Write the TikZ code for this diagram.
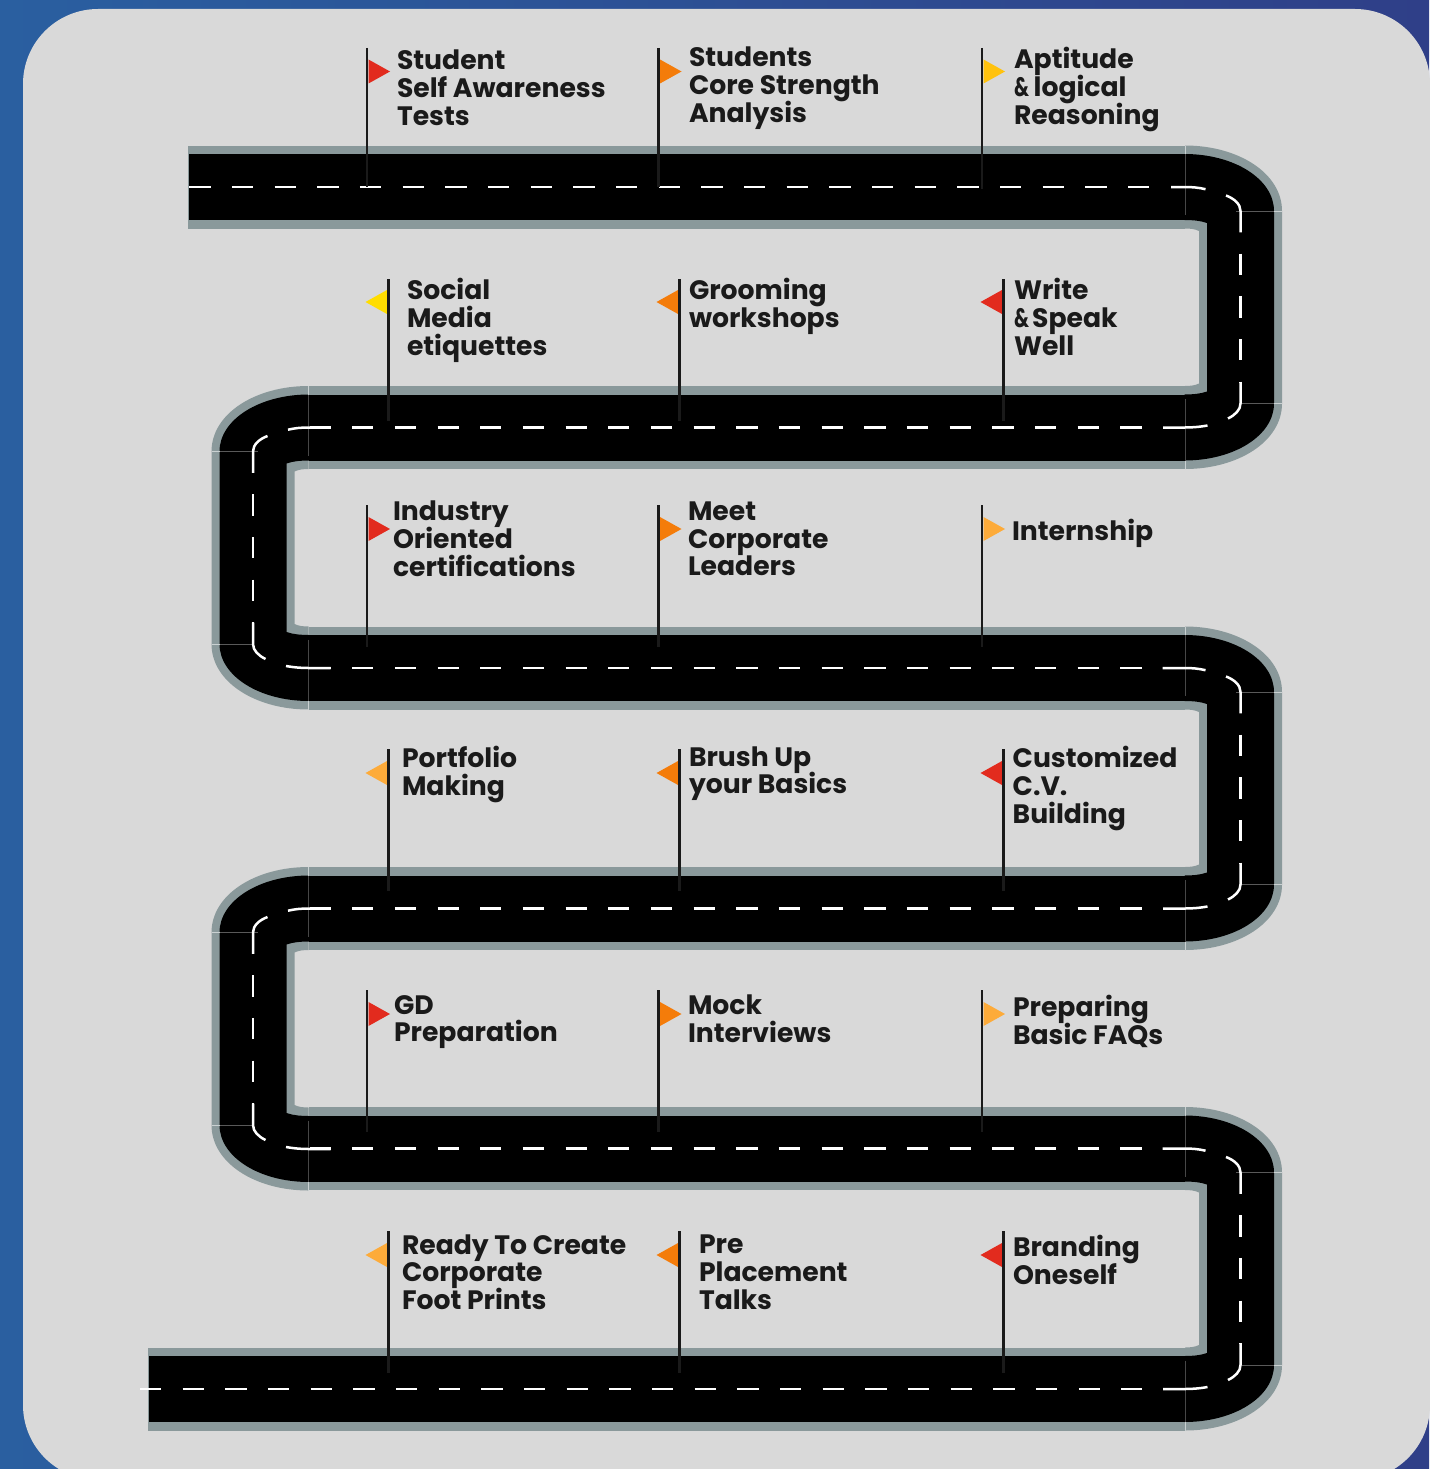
\documentclass[tikz,border=0pt]{standalone}
\usepackage{fontspec}
\setmainfont{Poppins}[BoldFont={Poppins Bold},Ligatures=TeX]
\normallineskiplimit=-60pt
\lineskiplimit=-60pt
\definecolor{rim}{HTML}{8A999B}
\definecolor{panelc}{HTML}{D9D9D9}
\definecolor{ink}{HTML}{1A1A1A}
\definecolor{bgleft}{HTML}{2A5FA0}
\definecolor{bgright}{HTML}{2F3F88}
\definecolor{fred}{HTML}{E22B1E}
\definecolor{forange}{HTML}{F47C0A}
\definecolor{famber}{HTML}{FDAB3A}
\definecolor{fgold}{HTML}{FFC20E}
\definecolor{fyellow}{HTML}{FFDD00}
\tikzset{
  lbl/.style={anchor=north west,inner sep=0pt,outer sep=0pt,align=left,text=ink,font=\fontsize{26.65}{27.7}\selectfont\bfseries},
  pole/.style={draw=ink,line width=2.9pt},
  lane/.style={draw=white,line width=2.5pt},
  lanedash/.style={lane,dash pattern=on 21.3pt off 21.37pt},
  seam/.style={line width=.6pt,draw=#1}
}
% straight carriageway: y, x start, x dash start, x dash end
\newcommand{\roadrow}[4]{
  \fill[rim] (#2,#1-41.5) rectangle (1185,#1+41.5);
  \fill[black] (#2+.8,#1-33) rectangle (1185.5,#1+33);
  \draw[lanedash] (#3,#1) -- (#4,#1);
}
% right-hand bend: y of upper row, x where the upper curved dash starts, x where the lower one starts
\newcommand{\bend}[3]{
  \fill[rim] (1185,#1-41.5) .. controls (1238,#1-41.5) and (1282,#1-14) .. (1282,#1+24)
     -- (1282,#1+216.5) .. controls (1282,#1+254.5) and (1238,#1+282) .. (1185,#1+282)
     -- (1185,#1+199) .. controls (1190,#1+199) and (1195,#1+198.5) .. (1199,#1+196.5)
     -- (1199,#1+44) .. controls (1195,#1+42) and (1190,#1+41.5) .. (1185,#1+41.5) -- cycle;
  \fill[black] (1184.5,#1-33) .. controls (1234,#1-33) and (1274,#1-8) .. (1274,#1+24)
     -- (1274,#1+216.5) .. controls (1274,#1+248.5) and (1234,#1+273.5) .. (1184.5,#1+273.5)
     -- (1184.5,#1+207.5) .. controls (1192,#1+207.5) and (1200,#1+207) .. (1207,#1+204.5)
     -- (1207,#1+36) .. controls (1200,#1+33.5) and (1192,#1+33) .. (1184.5,#1+33) -- cycle;
  \draw[seam=rim!45!white] (1185,#1-41.5) -- (1185,#1-33);
  \draw[seam=black!72!white] (1185,#1-33) -- (1185,#1+28);
  \draw[seam=rim!45!white] (1185,#1+273.5) -- (1185,#1+282);
  \draw[seam=black!72!white] (1185,#1+212) -- (1185,#1+273.5);
  \draw[seam=rim!45!white] (1274,#1+24) -- (1282,#1+24);
  \draw[seam=black!65!white] (1236,#1+24) -- (1274,#1+24);
  \draw[seam=rim!45!white] (1274,#1+216.5) -- (1282,#1+216.5);
  \draw[seam=black!65!white] (1240,#1+216.5) -- (1274,#1+216.5);
  \draw[lane] (#2,#1) -- (1185,#1) .. controls (1192,#1) and (1199,#1+.6) .. (1205.5,#1+2.2);
  \draw[lane] (1226,#1+8.5) .. controls (1234,#1+11.5) and (1240.5,#1+17) .. (1240.5,#1+24) -- (1240.5,#1+45.3);
  \draw[lanedash] (1240.5,#1+66.7) -- (1240.5,#1+195);
  \draw[lane] (1240.5,#1+195) -- (1240.5,#1+216.5) .. controls (1240.5,#1+223) and (1235,#1+228) .. (1228,#1+231.5);
  \draw[lane] (1207.5,#1+238.5) .. controls (1199,#1+240) and (1192,#1+240.5) .. (1185,#1+240.5) -- (#3,#1+240.5);
}
\newcommand{\flagr}[5]{% x, top, bottom, flag mid y, colour
  \fill[#5] (#1+1.5,#4-12) -- (#1+23,#4) -- (#1+1.5,#4+12) -- cycle;
  \draw[pole] (#1,#2) -- (#1,#3);
}
\newcommand{\flagl}[5]{%
  \fill[#5] (#1-1.5,#4-12) -- (#1-23,#4) -- (#1-1.5,#4+12) -- cycle;
  \draw[pole] (#1,#2) -- (#1,#3);
}
% label: name, x, first baseline, text
\newcommand{\lab}[4]{\node[lbl] (#1) at (#2,#3-20) {\rule{0pt}{20pt}#4};}
% narrow ampersand, as the reference sets it
\newcommand{\narrowamp}{\resizebox{15pt}{\height}{\&}}
\begin{document}
\begin{tikzpicture}[x=1pt,y=-1pt]
\useasboundingbox (0,0) rectangle (1429,1469);
\fill[left color=bgleft,right color=bgright] (0,0) rectangle (1429,1469);
\fill[panelc,rounded corners=75pt] (23,9) rectangle (1430,1480);
% road
\roadrow{187}{188}{189.3}{1150}
\roadrow{427.5}{308.5}{309.5}{1142}
\roadrow{668}{308.5}{309.5}{1142}
\roadrow{908.5}{308.5}{309.5}{1142}
\roadrow{1148.5}{308.5}{309.5}{1142}
\roadrow{1389}{148}{140}{1142}
\bend{187}{1171}{1163}
\bend{668}{1162.5}{1163}
\bend{1148.5}{1162.5}{1163}
\begin{scope}[xshift=1493.5pt,xscale=-1]
\bend{427.5}{1163}{1163}
\bend{908.5}{1163}{1163}
\end{scope}
% flags
\flagr{367}{48}{187}{71.5}{fred}
\flagr{658.5}{48}{187}{71.5}{forange}
\flagr{982}{48}{189}{71.5}{fgold}
\flagl{388.5}{279}{421}{302}{fyellow}
\flagl{679.5}{279}{421}{302}{forange}
\flagl{1003.5}{279}{421}{302}{fred}
\flagr{367}{505}{647}{529}{fred}
\flagr{658.5}{505}{647}{529}{forange}
\flagr{982}{505}{647}{529}{famber}
\flagl{388.5}{749}{891}{773}{famber}
\flagl{679.5}{749}{891}{773}{forange}
\flagl{1003.5}{749}{891}{773}{fred}
\flagr{367}{990}{1132}{1014}{fred}
\flagr{658.5}{990}{1132}{1014}{forange}
\flagr{982}{990}{1132}{1014}{famber}
\flagl{388.5}{1231}{1373}{1255}{famber}
\flagl{679.5}{1231}{1373}{1255}{forange}
\flagl{1003.5}{1231}{1373}{1255}{fred}
% labels
\lab{a1}{397}{70}{Student\\Self Awareness\\Tests}
\lab{a2}{689}{67}{Students\\Core Strength\\Analysis}
\lab{a3}{1014}{67.5}{Aptitude\\\narrowamp\hspace{-1pt} logical\\Reasoning}
\lab{b1}{407}{298.5}{Social\\Media\\etiquettes}
\lab{b2}{689}{298.5}{Grooming\\workshops}
\lab{b3}{1014}{298.5}{Write\\\narrowamp\hspace{-2.5pt} Speak\\Well}
\lab{c1}{393}{520.7}{Industry\\Oriented\\certifications}
\lab{c2}{688}{520.3}{Meet\\Corporate\\Leaders}
\lab{c3}{1012}{539.3}{Internship}
\lab{d1}{402}{766.3}{Portfolio\\Making}
\lab{d2}{689}{766.2}{Brush Up\\your Basics}
\lab{d3}{1012.7}{766.5}{Customized\\C.V.\\Building}
\lab{e1}{394}{1014}{GD\\Preparation}
\lab{e2}{688}{1014.4}{Mock\\Interviews}
\lab{e3}{1013}{1015.2}{Preparing\\Basic FAQs}
\lab{f1}{402}{1254}{Ready To Create\\Corporate\\Foot Prints}
\lab{f2}{699}{1253.7}{Pre\\Placement\\Talks}
\lab{f3}{1013}{1255.2}{Branding\\Oneself}
\end{tikzpicture}
\end{document}
